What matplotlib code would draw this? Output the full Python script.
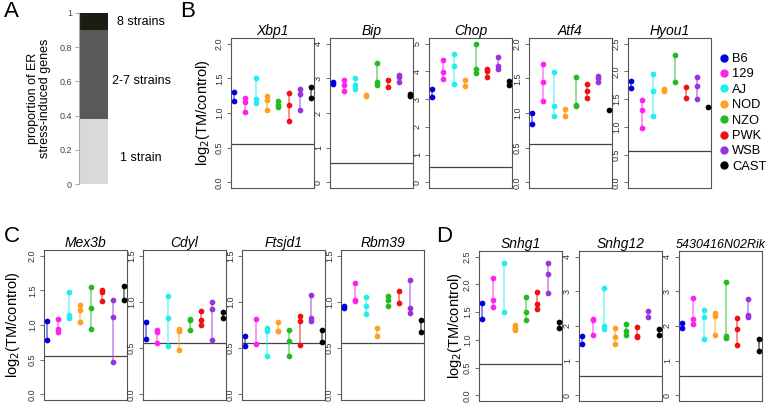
import matplotlib
matplotlib.use("Agg")
import matplotlib.pyplot as plt
from matplotlib.lines import Line2D

plt.rcParams["font.family"] = ["Liberation Sans", "DejaVu Sans"]

# ---- data -------------------------------------------------------------
strains = ["B6", "129", "AJ", "NOD", "NZO", "PWK", "WSB", "CAST"]
strain_colors = ["#0000dd", "#ff22ee", "#22eef0", "#ffa020", "#22bb22",
                 "#ee1111", "#9933dd", "#000000"]

# panel A: proportion of ER stress-induced genes
a_labels = ["1 strain", "2-7 strains", "8 strains"]
a_values = [0.38, 0.52, 0.10]
a_colors = ["#d9d9d9", "#595959", "#1d1c12"]

threshold = 0.56

# panel B
xbp1 = [[1.30, 1.18], [1.22, 1.16, 1.02], [1.50, 1.20, 1.14], [1.25, 1.19, 1.04],
        [1.17, 1.11, 1.09], [1.29, 1.12, 0.88], [1.35, 1.27, 1.04], [1.37, 1.21]]
bip = [[2.88, 2.84], [2.96, 2.81, 2.62], [3.02, 2.81, 2.70], [2.53, 2.48],
       [3.44, 2.90, 2.81], [2.95, 2.76], [3.10, 3.03, 2.89], [2.55, 2.50]]
chop = [[3.36, 3.08], [4.40, 3.99, 3.74], [4.64, 4.18, 3.56], [3.69, 3.49],
        [4.98, 4.07, 3.94], [4.07, 4.01, 3.79], [4.51, 4.21, 4.08], [3.65, 3.50]]
atf4 = [[1.00, 0.84], [1.70, 1.44, 1.18], [1.59, 1.10, 0.96], [1.06, 0.95],
        [1.52, 1.12, 1.10], [1.42, 1.31, 1.21], [1.54, 1.51, 1.44], [1.04]]
hyou1 = [[1.83, 1.70], [1.49, 1.31, 0.98], [1.96, 1.64, 1.20], [1.69, 1.64],
         [2.29, 1.80], [1.71, 1.52], [1.89, 1.73, 1.51], [1.35]]

# panel C
mex3b = [[1.06, 0.79], [1.08, 0.94, 0.90], [1.47, 1.14, 1.10], [1.29, 1.22, 1.05],
         [1.55, 1.25, 0.94], [1.50, 1.47, 1.35], [1.36, 1.12, 0.47], [1.56, 1.36]]
cdyl = [[0.78, 0.60], [0.70, 0.67, 0.56], [1.06, 0.83, 0.52], [0.71, 0.68, 0.48],
        [0.81, 0.80, 0.70], [0.90, 0.80, 0.75], [1.00, 0.92, 0.59], [0.89, 0.83]]
ftsjd1 = [[0.63, 0.52], [0.82, 0.54], [0.72, 0.69, 0.41], [0.78, 0.69, 0.68],
          [0.70, 0.58, 0.42], [0.85, 0.79, 0.53], [1.07, 0.83, 0.79], [0.70, 0.57]]
rbm39 = [[0.95, 0.93], [1.20, 1.02, 1.01], [1.05, 0.96, 0.87], [0.72, 0.63],
         [1.06, 1.02, 0.96], [1.12, 0.99], [1.24, 0.93, 0.88], [0.80, 0.67]]

# panel D
snhg1 = [[1.66, 1.37], [2.12, 1.72, 1.60], [2.39, 1.50], [1.26, 1.21, 1.17],
         [1.77, 1.51, 1.36], [1.86, 1.65, 1.55], [2.38, 2.19, 1.85], [1.32, 1.22]]
snhg12 = [[1.70, 1.47], [2.21, 2.18, 1.75], [3.10, 1.99, 1.92], [1.93, 1.67, 1.49],
          [2.05, 1.87, 1.74], [1.97, 1.71, 1.67], [2.44, 2.26], [1.92, 1.73]]
rik = [[2.09, 1.95], [2.80, 2.20, 2.06], [2.45, 2.27, 1.63], [2.36, 2.29, 1.75],
       [3.28, 1.71, 1.64], [2.23, 1.91, 1.46], [2.79, 2.31, 2.26], [1.62, 1.27]]

# gene name, values, y max, tick step, tick format
panel_b = [("Xbp1", xbp1, 2.0, 0.5, "{:.1f}"), ("Bip", bip, 4, 1, "{:.0f}"),
           ("Chop", chop, 5, 1, "{:.0f}"), ("Atf4", atf4, 2.0, 0.5, "{:.1f}"),
           ("Hyou1", hyou1, 2.5, 0.5, "{:.1f}")]
panel_c = [("Mex3b", mex3b, 2.0, 0.5, "{:.1f}"), ("Cdyl", cdyl, 1.5, 0.5, "{:.1f}"),
           ("Ftsjd1", ftsjd1, 1.5, 0.5, "{:.1f}"), ("Rbm39", rbm39, 1.5, 0.5, "{:.1f}")]
panel_d = [("Snhg1", snhg1, 2.5, 0.5, "{:.1f}"), ("Snhg12", snhg12, 4, 1, "{:.0f}"),
           ("5430416N02Rik", rik, 4, 1, "{:.0f}")]

W, H = 767, 403
fig = plt.figure(figsize=(W / 100, H / 100), dpi=100)


def px_axes(left, top, width, height):
    return fig.add_axes([left / W, 1 - (top + height) / H, width / W, height / H])


def gene_panel(ax, name, values, ymax, step, fmt):
    for i, (vals, col) in enumerate(zip(values, strain_colors)):
        x = i + 1
        if len(vals) > 1:
            ax.plot([x, x], [min(vals), max(vals)], color=col, lw=1.1, alpha=0.6, zorder=2)
        ax.scatter([x] * len(vals), vals, s=17, color=col, zorder=3, clip_on=False,
                   linewidths=0)
    ax.axhline(threshold, color="#444444", lw=0.9, zorder=1)
    ax.set_xlim(0.72, 8.28)
    ax.set_ylim(-0.04 * ymax, ymax * 1.04)
    ticks = [k * step for k in range(int(round(ymax / step)) + 1)]
    ax.set_yticks(ticks)
    ax.set_yticklabels([fmt.format(t) for t in ticks], rotation=90, va="center",
                       fontsize=6.5, color="#333333")
    ax.set_xticks([])
    ax.tick_params(axis="y", length=3, width=0.6, color="#555555", pad=2)
    for sp in ax.spines.values():
        sp.set_color("#555555")
        sp.set_linewidth(0.8)
    ax.set_title(name, style="italic", fontsize=9 if len(name) > 8 else 10, pad=2)


ylab = r"log$_2$(TM/control)"

# ---- panel A ----------------------------------------------------------
axa = px_axes(79, 13, 29, 171)
bottom = 0
for lab, v, c in zip(a_labels, a_values, a_colors):
    axa.bar([0], [v], bottom=bottom, width=1.0, color=c)
    bottom += v
axa.set_xlim(-0.5, 0.5)
axa.set_ylim(0, 1)
axa.set_yticks([0, 0.2, 0.4, 0.6, 0.8, 1.0])
axa.set_yticklabels(["0", "0.2", "0.4", "0.6", "0.8", "1"], fontsize=6.5, color="#444444")
axa.set_xticks([])
for s in ["top", "right", "bottom"]:
    axa.spines[s].set_visible(False)
axa.spines["left"].set_color("#aaaaaa")
axa.tick_params(axis="y", length=3, color="#aaaaaa", pad=2)
for lab, y in zip(a_labels, [0.15, 0.60, 0.95]):
    axa.text(2.14, y, lab, transform=axa.get_yaxis_transform(), ha="center",
             va="center", fontsize=9)
fig.text(39 / W, 1 - 98 / H, "proportion of ER\nstress-induced genes", rotation=90,
         ha="center", va="center", fontsize=9, linespacing=1.1)

# ---- panels B, C, D ---------------------------------------------------
for (left, spec) in zip([231, 330, 429, 529, 628], panel_b):
    gene_panel(px_axes(left, 38, 83, 150), *spec)
for (left, spec) in zip([44, 143, 242, 341], panel_c):
    gene_panel(px_axes(left, 250, 83, 150), *spec)
for (left, spec) in zip([479, 579, 679], panel_d):
    gene_panel(px_axes(left, 251, 83, 150), *spec)

fig.text(203 / W, 1 - 113 / H, ylab, rotation=90, ha="center", va="center", fontsize=10.5)
fig.text(13 / W, 1 - 325 / H, ylab, rotation=90, ha="center", va="center", fontsize=10.5)
fig.text(455 / W, 1 - 326 / H, ylab, rotation=90, ha="center", va="center", fontsize=10.5)

# legend
handles = [Line2D([], [], marker="o", ls="none", color=c, markersize=5) for c in strain_colors]
fig.legend(handles, strains, loc="upper left", bbox_to_anchor=(718 / W, 1 - 53 / H),
           frameon=False, fontsize=9.3, handletextpad=0.1, labelspacing=0.26,
           borderpad=0, borderaxespad=0, handlelength=1.0)

# panel letters
for letter, x, y in [("A", 4, 1), ("B", 180, 1), ("C", 4, 226), ("D", 436, 226)]:
    fig.text(x / W, 1 - y / H, letter, fontsize=16, ha="left", va="top")

fig.savefig("out.png", dpi=100)
